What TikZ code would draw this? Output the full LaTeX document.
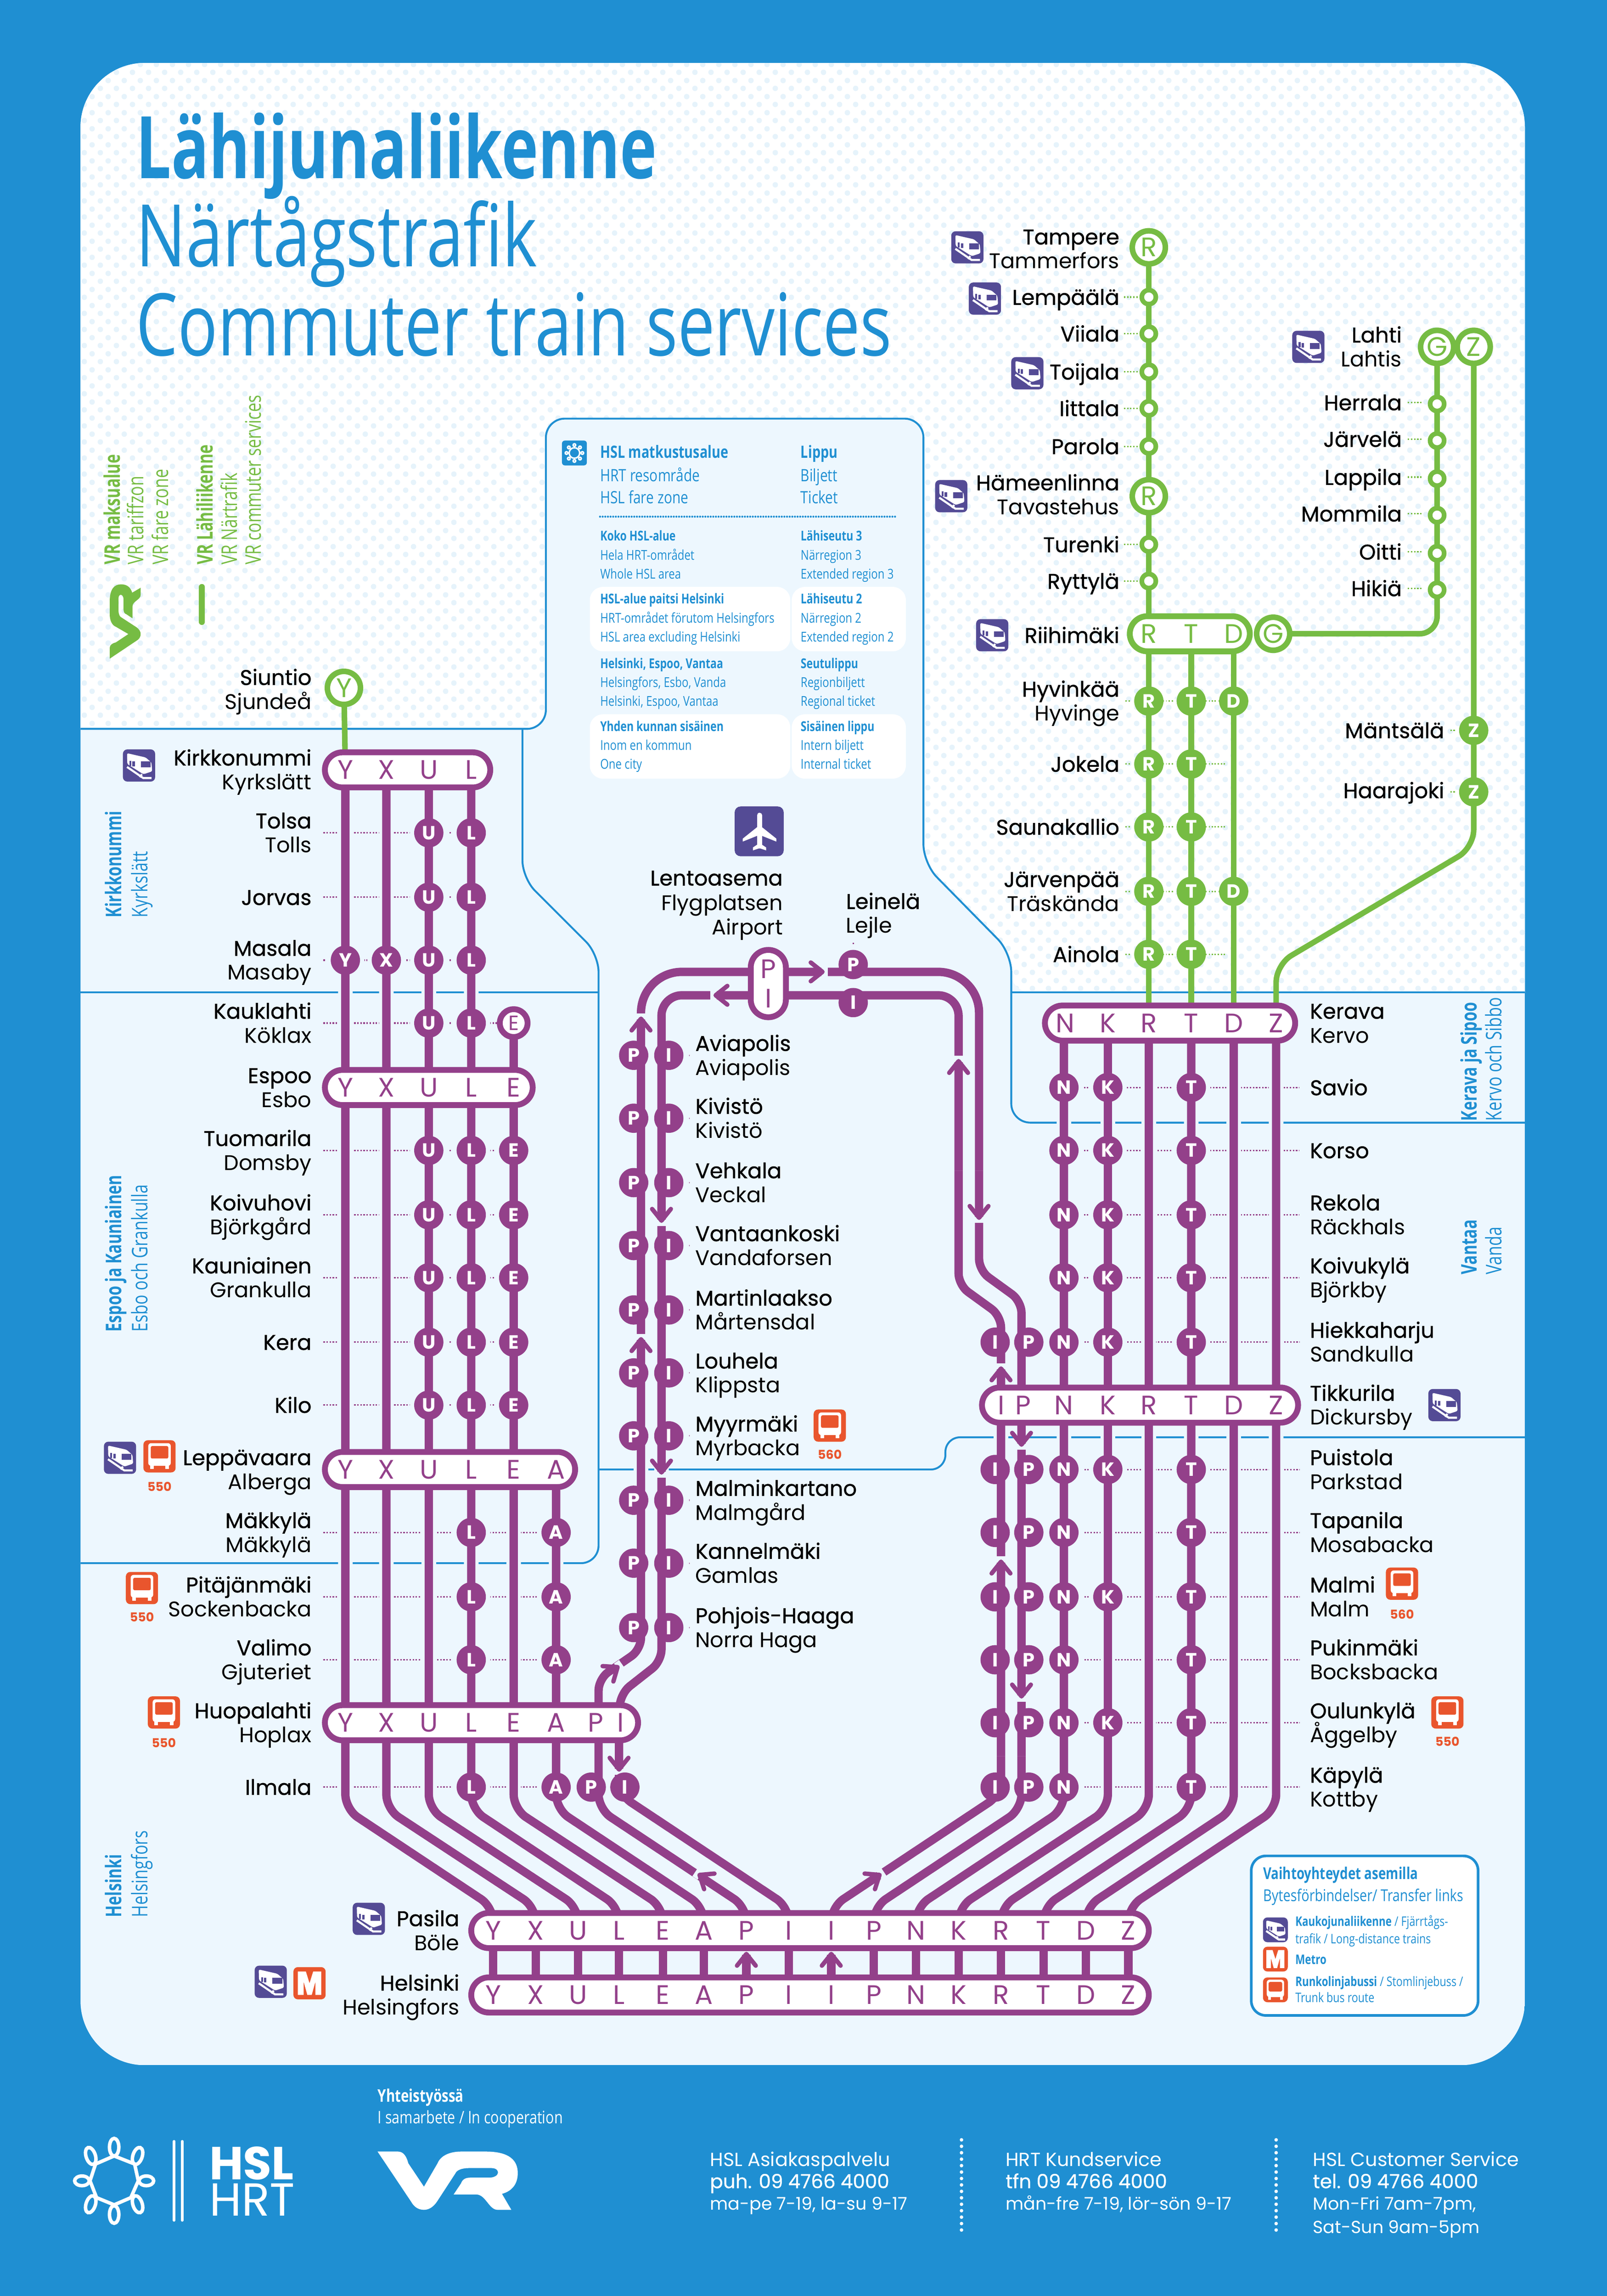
\documentclass[tikz,border=0pt]{standalone}
\usepackage{fontspec}
\usetikzlibrary{shapes.misc,patterns}
\setmainfont{Poppins}
\newfontfamily\stnb[FakeBold=.8]{Poppins}
\newfontfamily\cond[FakeStretch=.81,BoldFeatures={FakeStretch=.78}]{Open Sans}
\newfontfamily\sidef[FakeStretch=.76,BoldFeatures={FakeStretch=.72}]{Open Sans}
\newfontfamily\titlef[FakeStretch=.765,BoldFeatures={FakeStretch=.72}]{Open Sans}
\definecolor{hslblue}{HTML}{1F8FD2}
\definecolor{bgc}{HTML}{EDF7FE}
\definecolor{dotc}{HTML}{E6F3FB}
\definecolor{metro}{HTML}{93408A}
\definecolor{vrgreen}{HTML}{76BC43}
\definecolor{iconp}{HTML}{544B95}
\definecolor{iconr}{HTML}{E9552D}
\pgfdeclarepatternformonly{staggerdots}{\pgfpoint{0cm}{0cm}}{\pgfpoint{.55cm}{.55cm}}{\pgfpoint{.55cm}{.55cm}}{
	\pgfpathcircle{\pgfpoint{.1375cm}{.1375cm}}{.095cm}
	\pgfpathcircle{\pgfpoint{.4125cm}{.4125cm}}{.095cm}
	\pgfusepath{fill}}
\tikzset{
	zone/.style={draw=hslblue,line width=.065cm},
	trk/.style={draw=metro,line width=.285cm,preaction={draw=bgc,line width=.5cm}},
	grn/.style={draw=vrgreen,line width=.19cm},
	leader/.style={draw=metro,line width=.05cm,dash pattern=on .05cm off .055cm},
	gleader/.style={draw=vrgreen,line width=.05cm,dash pattern=on .05cm off .055cm},
	blob/.style={circle,fill=metro,text=white,inner sep=0pt,minimum size=1cm,font=\bfseries\fontsize{18.6}{19}\selectfont},
	gblob/.style={blob,fill=vrgreen},
	halo/.style={circle,fill=bgc,inner sep=0pt,minimum size=1.3cm},
	ring/.style={circle,draw=vrgreen,fill=white,line width=.19cm,inner sep=0pt,minimum size=1.13cm,text=vrgreen,font=\fontsize{26}{26}\selectfont},
	halt/.style={circle,draw=vrgreen,fill=white,line width=.16cm,inner sep=0pt,minimum size=.48cm},
	stbox/.style={rounded rectangle,draw=metro,fill=white,line width=.2cm,inner sep=0pt,minimum height=1.2cm},
	gbox/.style={stbox,draw=vrgreen},
	boxlet/.style={inner sep=0pt,text=metro,font=\fontsize{26}{26}\selectfont},
	nameA/.style={inner sep=0pt,font=\stnb\fontsize{20.7}{21}\selectfont},
	nameB/.style={inner sep=0pt,font=\fontsize{20.6}{21}\selectfont},
	busno/.style={inner sep=0pt,text=iconr,font=\bfseries\fontsize{12}{12}\selectfont},
	headA/.style={inner sep=0pt,anchor=base west,text=hslblue,font=\cond\bfseries\fontsize{16.5}{17}\selectfont},
	headB/.style={inner sep=0pt,anchor=base west,text=hslblue,font=\cond\fontsize{16.5}{17}\selectfont},
	rowA/.style={inner sep=0pt,anchor=base west,text=hslblue,font=\cond\bfseries\fontsize{13.2}{14}\selectfont},
	rowB/.style={inner sep=0pt,anchor=base west,text=hslblue,font=\cond\fontsize{13.2}{14}\selectfont},
	sideA/.style={inner sep=0pt,rotate=90,anchor=base west,font=\sidef\bfseries\fontsize{21}{21}\selectfont},
	sideB/.style={inner sep=0pt,rotate=90,anchor=base west,font=\sidef\fontsize{21}{21}\selectfont},
	foot/.style={inner sep=0pt,anchor=base west,text=white,font=\fontsize{17}{17}\selectfont},
	tipmark/.pic={
		\fill[bgc] (-.6,-3.4) rectangle (3.6,3.4);
		\draw[metro,line width=.15cm,line cap=round,line join=round] (-8,-6.4) -- (0,0) -- (-8,6.4);
	},
	trainicon/.pic={
		\fill[iconp,rounded corners=.15cm] (-11,-11) rectangle (11,11);
		\begin{scope}[shift={(-11,-11)}]
			\fill[white,rounded corners=.05cm] (2.8,2.6) -- (15.5,5.5) -- (19.5,9) -- (20,15) -- (14,17) -- (3,10) -- cycle;
			\fill[iconp] (12.2,8.3) rectangle (18.8,12.3);
			\fill[iconp] (4.4,7.8) rectangle (5.7,11.2);
			\fill[iconp] (6.5,8.3) rectangle (8.1,11.5);
			\draw[white,line width=.07cm] (2.8,12) -- (13.9,19.6) -- (19.6,19.6);
			\draw[white,line width=.07cm] (13,17) -- (11.5,19);
		\end{scope}
	},
	busicon/.pic={
		\fill[iconr,rounded corners=.15cm] (-11,-11) rectangle (11,11);
		\begin{scope}[shift={(-11,-11)}]
			\fill[white,rounded corners=.1cm] (3.3,2) rectangle (18.7,17.5);
			\fill[iconr,rounded corners=.05cm] (5,4) rectangle (17,12.5);
			\fill[white] (4.5,16) rectangle (7,19.7);
			\fill[white] (15,16) rectangle (17.5,19.7);
		\end{scope}
	},
	metroicon/.pic={
		\fill[iconr,rounded corners=.15cm] (-11,-11) rectangle (11,11);
		\begin{scope}[shift={(-11,-11)}]
			\fill[white] (3,3) -- (8.5,3) -- (11,11) -- (13.5,3) -- (19,3) -- (19,19) -- (15,19) -- (15,10) -- (12.5,19) -- (9.5,19) -- (7,10) -- (7,19) -- (3,19) -- cycle;
		\end{scope}
	},
	vrlogo/.pic={
		\fill (0,0) -- (14,0) .. controls (18,0) and (20,4) .. (21,8) -- (31.7,24) -- (41,8) .. controls (43,3) and (49,0) .. (57,0) -- (74,0)
			.. controls (90,0) and (95.8,6) .. (95.8,14.7) .. controls (95.8,22) and (92,27) .. (85,28.9) -- (91.4,39.8) -- (82,39.8)
			.. controls (76,39.8) and (74,29.3) .. (67.3,29.3) -- (52,29.3) -- (57,21.8) .. controls (58,19) and (60,17.8) .. (63.5,17.8) -- (76.2,17.8)
			.. controls (84,17.8) and (84,11.3) .. (78,11.3) -- (62.2,11.3) .. controls (57,11.3) and (54,13) .. (53.3,14.7) -- (40.6,34.2)
			.. controls (38,38) and (35,39.8) .. (31.7,39.8) .. controls (28,39.8) and (25,38) .. (22.9,34.2) -- cycle;
	}
}
\newcommand{\pill}[6]{\node[#1,minimum width={(#4-#3-4)*.05cm}] (#2) at ({(#3+#4)/2},#5) {};
	\foreach \c/\x in {#6} {\node[boxlet,#1let] (#2\c\x) at (\x,#5) {\c};}}
\tikzset{stboxlet/.style={},gboxlet/.style={text=vrgreen}}
% stops of the purple lines, column by column
\def\purplestops{U/293/{569,613,656,699,786,830,873,917,960},L/322/{569,613,656,699,786,830,873,917,960,1047,1091,1134,1221},Y/236/{656},X/264/{656},E/351/{786,830,873,917,960},A/380/{1047,1091,1134,1221},P/404/{1221},I/427/{1221},P/433/{721,764,808,851,895,938,981,1025,1068,1112},I/457/{721,764,808,851,895,938,981,1025,1068,1112},I/680/{917,1004,1047,1091,1134,1177,1221},P/703/{917,1004,1047,1091,1134,1177,1221},N/727/{743,786,830,873,917,1004,1047,1091,1134,1177,1221},K/757/{743,786,830,873,917,1004,1091,1177},T/814/{743,786,830,873,917,1004,1047,1091,1134,1177,1221},P/583/{659},I/583/{685}}
\def\greenstops{R/785/{479,522,565,609,652},T/814/{479,522,565,609,652},D/843/{479,609},Z/1007/{499,541}}
\begin{document}
\begin{tikzpicture}[x=.05cm,y=-.05cm]
	\fill[hslblue] (0,0) rectangle (1098,1568.7);
	\begin{scope}
		\clip[rounded corners=2.2cm] (55,43) rectangle (1042,1411);
		\fill[bgc] (55,43) rectangle (1042,1411);
		\fill[white,rounded corners=.65cm] (0,498) -- (373,498) -- (373,286) -- (631,286) -- (631,590) -- (691,651) -- (691,678) -- (1100,678) -- (1100,0) -- (0,0) -- cycle;
		\fill[pattern=staggerdots,pattern color=dotc,rounded corners=.65cm] (0,498) -- (373,498) -- (373,286) -- (631,286) -- (631,590) -- (691,651) -- (691,678) -- (1100,678) -- (1100,0) -- (0,0) -- cycle;
	\end{scope}
	% zones
	\draw[zone,rounded corners=.65cm] (55,498) -- (373,498) -- (373,286) -- (631,286) -- (631,590) -- (691,651) -- (691,767) -- (1042,767);
	\draw[zone] (691,678) -- (1042,678);
	\draw[zone,rounded corners=.6cm] (357,498) -- (357,600) -- (409,652) -- (409,1068) -- (55,1068);
	\draw[zone] (55,678) -- (409,678);
	\draw[zone,rounded corners=.5cm] (409,1004) -- (646,1004) -- (646,982) -- (1042,982);
	% title
	\node[inner sep=0pt,anchor=base west,text=hslblue,font=\titlef\bfseries\fontsize{84}{84}\selectfont] (title1) at (93,122) {Lähijunaliikenne};
	\node[inner sep=0pt,anchor=base west,text=hslblue,font=\titlef\fontsize{84}{84}\selectfont] (title2) at (93,182) {Närtågstrafik};
	\node[inner sep=0pt,anchor=base west,text=hslblue,font=\titlef\fontsize{84}{84}\selectfont] (title3) at (93,243) {Commuter train services};
	% VR legend
	\foreach \x/\t [count=\i] in {82/VR maksualue,145.5/VR Lähiliikenne} {\node[sideA,text=vrgreen] (vrA\i) at (\x,386) {\t};}
	\foreach \x/\t [count=\i] in {98/VR tariffzon,115/VR fare zone,162/VR Närtrafik,178.5/VR commuter services} {\node[sideB,text=vrgreen] (vrB\i) at (\x,386) {\t};}
	\pic[vrgreen,rotate=90,scale=.53] at (75,450) {vrlogo};
	\draw[vrgreen,line width=.2cm,line cap=round] (138,401) -- (138,425);
	% zone names
	\foreach \x/\y/\t [count=\i] in {83/627/Kirkkonummi,83/910/Espoo ja Kauniainen,83/1310/Helsinki,1009/766/Kerava ja Sipoo,1009/871/Vantaa} {\node[sideA,text=hslblue] (zoneA\i) at (\x,\y) {\t};}
	\foreach \x/\y/\t [count=\i] in {101/627/Kyrkslätt,101/910/Esbo och Grankulla,101/1310/Helsingfors,1026/766/Kervo och Sibbo,1026/871/Vanda} {\node[sideB,text=hslblue] (zoneB\i) at (\x,\y) {\t};}
	% HSL ticket legend
	\foreach \a/\b in {403/540,541/619} \foreach \y in {401,488} {
		\fill[white,rounded corners=.45cm] (\a,\y) rectangle (\b,\y+44);
	}
	\fill[hslblue,rounded corners=.1cm] (384,301) rectangle (401,318);
	\draw[white,line width=.05cm] (392.5,309.5) circle (3.6);
	\foreach \a in {0,45,...,315} {\draw[white,line width=.05cm] (392.5,309.5) ++(\a:5.4) circle (.9);}
	\node[headA] (ticketA) at (410,313) {HSL matkustusalue};
	\node[headB] (ticketB) at (410,329) {HRT resområde};
	\node[headB] (ticketC) at (410,344) {HSL fare zone};
	\node[headA] (ticketD) at (547,313) {Lippu};
	\node[headB] (ticketE) at (547,329) {Biljett};
	\node[headB] (ticketF) at (547,344) {Ticket};
	\draw[hslblue,line width=.07cm,line cap=round,dash pattern=on 0cm off .09cm] (410,353) -- (613,353);
	\foreach \y/\a/\b/\c/\d/\e/\f [count=\i] in {
		369.5/Koko HSL-alue/Hela HRT-området/Whole HSL area/Lähiseutu 3/Närregion 3/Extended region 3,
		412.5/HSL-alue paitsi Helsinki/HRT-området förutom Helsingfors/HSL area excluding Helsinki/Lähiseutu 2/Närregion 2/Extended region 2,
		456.5/{Helsinki, Espoo, Vantaa}/{Helsingfors, Esbo, Vanda}/{Helsinki, Espoo, Vantaa}/Seutulippu/Regionbiljett/Regional ticket,
		499.5/Yhden kunnan sisäinen/Inom en kommun/One city/Sisäinen lippu/Intern biljett/Internal ticket} {
		\node[rowA] (fareA\i) at (410,\y) {\a};
		\node[rowB] (fareB\i) at (410,\y+13) {\b};
		\node[rowB] (fareC\i) at (410,\y+26) {\c};
		\node[rowA] (fareD\i) at (547,\y) {\d};
		\node[rowB] (fareE\i) at (547,\y+13) {\e};
		\node[rowB] (fareF\i) at (547,\y+26) {\f};
	}
	% green lines
	\coordinate (cY) at (235,470);
	\coordinate (cR) at (785,169);
	\coordinate (cG) at (870,433);
	\coordinate (cGt) at (982,237);
	\coordinate (cZt) at (1007,237);
	\coordinate (kkY) at (236,526);
	\coordinate (kvR) at (785,699);
	\coordinate (kvT) at (814,699);
	\coordinate (kvD) at (843,699);
	\coordinate (kvZ) at (872,699);
	\coordinate (riT) at (814,433);
	\coordinate (riD) at (843,433);
	\draw[grn] (cY) -- (kkY);
	\draw[grn] (cR) -- (kvR);
	\draw[grn] (riT) -- (kvT);
	\draw[grn] (riD) -- (kvD);
	\draw[grn,rounded corners=.6cm] (cG) -- (982,433) -- (cGt);
	\draw[grn,rounded corners=.6cm] (cZt) -- (1007,579) -- (872,659) -- (kvZ);
	\foreach \y/\a/\b in {203/768/778,228/768/778,254/768/778,279/768/778,305/768/778,372/768/778,397/768/778,479/769/843,522/769/838,565/769/838,609/769/843,652/769/838,275/962/972,300/962/972,326/962/972,351/962/972,377/962/972,402/962/972,499/991/1000,541/991/1000} {
		\coordinate (gl\a\y) at (\a,\y);
		\coordinate (gr\a\y) at (\b,\y);
		\draw[gleader] (gl\a\y) -- (gr\a\y);
	}
	\foreach \c/\x/\ys in \greenstops {\foreach \y in \ys {\fill[white] (\x-12,\y-1.5) rectangle (\x-10.5,\y+1.5); \fill[white] (\x+10.5,\y-1.5) rectangle (\x+12,\y+1.5);}}
	\foreach \c/\x/\ys in \greenstops {\foreach \y in \ys {\node[gblob] (\c\x-\y) at (\x,\y) {\c};}}
	\foreach \y in {203,228,254,279,305,372,397} {\node[halt] (haltR\y) at (785,\y) {};}
	\foreach \y in {276,301,327,352,378,403} {\node[halt] (haltG\y) at (982,\y) {};}
	\node[ring] (ringY) at (cY) {Y};
	\node[ring] (ringR) at (cR) {R};
	\node[ring] (ringR2) at (785,339) {R};
	\node[ring] (ringG) at (cG) {G};
	\node[ring] (ringGt) at (cGt) {G};
	\node[ring] (ringZt) at (cZt) {Z};
	\pill{gbox}{Riihi}{770}{856}{433}{R/785,T/814,D/843}
	% leaders of the purple lines
	\foreach \y/\a/\b in {569/221/322,613/221/322,656/221/322,699/221/351,786/221/351,830/221/351,873/221/351,917/221/351,960/221/351,1047/221/380,1091/221/380,1134/221/380,1221/221/427,743/728/888,786/728/888,830/728/888,873/728/888,917/680/888,1004/680/888,1047/680/888,1091/680/888,1134/680/888,1177/680/888,1221/680/888,721/433/471,764/433/471,808/433/471,851/433/471,895/433/471,938/433/471,981/433/471,1025/433/471,1068/433/471,1112/433/471} {
		\coordinate (pl\a\y) at (\a,\y);
		\coordinate (pr\a\y) at (\b,\y);
		\draw[leader] (pl\a\y) -- (pr\a\y);
	}
	\coordinate (leiTop) at (583,644);
	\coordinate (leiBot) at (583,680);
	\draw[leader] (leiTop) -- (leiBot);
	\foreach \c/\x/\ys in \purplestops {\foreach \y in \ys {\node[halo] (h\c\x-\y) at (\x,\y) {};}}
	% trunk lines, left and right
	\foreach \n/\xt/\xb/\yt/\ya in {Y/236/337/526/1236,X/264/366/526/1236,U/293/395/526/1236,L/322/423/526/1236,E/351/453/699/1236,A/380/481/1004/1236,P/409/510/1177/1236,I/423/539/1177/1226,N/727/626/699/1236,K/757/655/699/1236,R/785/684/699/1236,T/814/713/699/1236,D/843/742/699/1236,Z/872/771/699/1236} {
		\coordinate (top\n) at (\xt,\yt);
		\coordinate (pas\n\xb) at (\xb,1319);
		\coordinate (hel\n\xb) at (\xb,1363);
		\draw[trk,rounded corners=.5cm] (top\n) -- (\xt,\ya) -- (\xb,1303) -- (pas\n\xb);
		\draw[trk] (pas\n\xb) -- (hel\n\xb);
	}
	\coordinate (pasIr) at (568,1319);
	\coordinate (pasPr) at (597,1319);
	\coordinate (helIr) at (568,1363);
	\coordinate (helPr) at (597,1363);
	\draw[trk] (pasIr) -- (helIr);
	\draw[trk] (pasPr) -- (helPr);
	% airport loop
	\coordinate (huoP) at (409,1177);
	\coordinate (huoI) at (423,1177);
	\draw[trk,rounded corners=.4cm] (huoP) -- (409,1147) -- (438,1127) -- (438,800);
	\draw[trk,rounded corners=1.4cm] (438,800) -- (438,664) -- (669,664) -- (669,800);
	\draw[trk,rounded corners=.4cm] (669,800) -- (669,868) -- (698,889) -- (698,1200);
	\draw[trk,rounded corners=.5cm] (698,1200) -- (698,1236) -- (597,1303) -- (pasPr);
	\draw[trk,rounded corners=.4cm] (huoI) -- (424,1157) -- (452,1135) -- (452,800);
	\draw[trk,rounded corners=.7cm] (452,800) -- (452,680) -- (655,680) -- (655,800);
	\draw[trk,rounded corners=.4cm] (655,800) -- (655,878) -- (684,899) -- (684,1200);
	\draw[trk,rounded corners=.5cm] (684,1200) -- (684,1226) -- (568,1303) -- (pasIr);
	% direction marks
	\foreach \x/\y/\a in {562/664/0,489/680/180,438/696/-90,452/834/90,438/915/-90,452/1006/90,655/725/-90,669/832/90,684/935/-90,698/987/90,684/1067/-90,698/1159/90,423/1209/90,422/1139/-35,478/1281/-146.5,601/1281/-33.5,510/1335/-90,568/1335/-90} {
		\pic[rotate=-\a] at (\x,\y) {tipmark};
	}
	% stops and station boxes
	\foreach \c/\x/\ys in \purplestops {\foreach \y in \ys {\node[blob] (\c\x-\y) at (\x,\y) {\c};}}
	\node[stbox,minimum width=.95cm,circle,minimum size=.95cm] (ringE) at (351,699) {};
	\node[boxlet,font=\fontsize{20}{20}\selectfont] (ringEl) at (351,699) {E};
	\pill{stbox}{Kirk}{220}{337}{526}{Y/236,X/264,U/293,L/322}
	\pill{stbox}{Espoo}{220}{366}{743}{Y/236,X/264,U/293,L/322,E/351}
	\pill{stbox}{Lepp}{220}{395}{1004}{Y/236,X/264,U/293,L/322,E/351,A/380}
	\pill{stbox}{Huop}{220}{438}{1177}{Y/236,X/264,U/293,L/322,E/351,A/380,P/407,I/424}
	\pill{stbox}{Kerv}{712}{887}{699}{N/728,K/757,R/785,T/814,D/843,Z/872}
	\pill{stbox}{Tikk}{669}{889}{960}{I/684,P/699,N/727,K/757,R/785,T/814,D/843,Z/872}
	\pill{stbox}{Pasi}{320}{787}{1319}{Y/337,X/366,U/395,L/423,E/453,A/481,P/510,I/539,I/568,P/597,N/626,K/655,R/684,T/713,D/742,Z/771}
	\pill{stbox}{Hels}{320}{787}{1363}{Y/337,X/366,U/395,L/423,E/453,A/481,P/510,I/539,I/568,P/597,N/626,K/655,R/684,T/713,D/742,Z/771}
	\node[stbox,rotate=90,minimum width=2.3cm] (airport) at (525,672) {};
	\node[boxlet] (airportP) at (525,662) {P};
	\node[boxlet] (airportI) at (525,682) {I};
	% station names
	\foreach \x/\y/\a/\b in {213/471/Siuntio/Sjundeå,213/526/Kirkkonummi/Kyrkslätt,213/569/Tolsa/Tolls,213/656/Masala/Masaby,213/699/Kauklahti/Köklax,213/743/Espoo/Esbo,213/786/Tuomarila/Domsby,213/830/Koivuhovi/Björkgård,213/873/Kauniainen/Grankulla,213/1004/Leppävaara/Alberga,213/1047/Mäkkylä/Mäkkylä,213/1091/Pitäjänmäki/Sockenbacka,213/1134/Valimo/Gjuteriet,213/1177/Huopalahti/Hoplax,314/1319/Pasila/Böle,314/1363/Helsinki/Helsingfors,765/170/Tampere/Tammerfors,765/338/Hämeenlinna/Tavastehus,765/479/Hyvinkää/Hyvinge,765/609/Järvenpää/Träskända,958/237/Lahti/Lahtis} {
		\node[nameA,anchor=base east] (\a) at (\x,\y-3) {\a};
		\node[nameB,anchor=base east] (\a2) at (\x,\y+13.5) {\b};
	}
	\foreach \x/\y/\a in {213/613/Jorvas,213/917/Kera,213/960/Kilo,213/1221/Ilmala,765/203/Lempäälä,765/228/Viiala,765/254/Toijala,765/279/Iittala,765/305/Parola,765/372/Turenki,765/397/Ryttylä,765/434/Riihimäki,765/522/Jokela,765/565/Saunakallio,765/652/Ainola,958/275/Herrala,958/300/Järvelä,958/326/Lappila,958/351/Mommila,958/377/Oitti,958/402/Hikiä,987/499/Mäntsälä,987/540/Haarajoki} {
		\node[nameA,anchor=base east] (\a) at (\x,\y+5.3) {\a};
	}
	\foreach \x/\y/\a/\b in {895/699/Kerava/Kervo,895/830/Rekola/Räckhals,895/873/Koivukylä/Björkby,895/917/Hiekkaharju/Sandkulla,895/960/Tikkurila/Dickursby,895/1004/Puistola/Parkstad,895/1047/Tapanila/Mosabacka,895/1091/Malmi/Malm,895/1134/Pukinmäki/Bocksbacka,895/1177/Oulunkylä/Åggelby,895/1221/Käpylä/Kottby,475/721/Aviapolis/Aviapolis,475/764/Kivistö/Kivistö,475/808/Vehkala/Veckal,475/851/Vantaankoski/Vandaforsen,475/895/Martinlaakso/Mårtensdal,475/938/Louhela/Klippsta,475/981/Myyrmäki/Myrbacka,475/1025/Malminkartano/Malmgård,475/1068/Kannelmäki/Gamlas,475/1112/Pohjois-Haaga/Norra Haga,578/624/Leinelä/Lejle} {
		\node[nameA,anchor=base west] (\a) at (\x,\y-3) {\a};
		\node[nameB,anchor=base west] (\a2) at (\x,\y+13.5) {\b};
	}
	\foreach \x/\y/\a in {895/743/Savio,895/786/Korso} {\node[nameA,anchor=base west] (\a) at (\x,\y+5.3) {\a};}
	\node[nameA,anchor=base east] (Lentoasema) at (535,605) {Lentoasema};
	\node[nameB,anchor=base east] (Flygplatsen) at (535,622) {Flygplatsen};
	\node[nameB,anchor=base east] (Airport) at (535,638.5) {Airport};
	% icons
	\foreach \n/\x/\y in {a/661/169,b/673/204,c/702/255,d/650/339,e/678/434,f/894/237,g/95/523,h/82/996,i/252/1311,j/185/1354,k/987/960} {\pic (train\n) at (\x,\y) {trainicon};}
	\foreach \n/\x/\y/\t/\v in {a/109/995/550/1019,b/97/1085/550/1108,c/112/1170/550/1194,d/567/974/560/997,e/958/1082/560/1106,f/989/1170/550/1193} {
		\pic (bus\n) at (\x,\y) {busicon};
		\node[busno,anchor=base] (busno\n) at (\x,\v) {\t};
	}
	\pic (metroM) at (211.5,1355) {metroicon};
	% airport sign
	\fill[iconp,rounded corners=.2cm] (502,551) rectangle (535.5,585);
	\begin{scope}[shift={(519,568)}]
		\draw[white,line width=.17cm,line cap=round] (0,-11) -- (0,10);
		\fill[white] (-1.5,-3) -- (-11.5,5) -- (-11.5,7) -- (-1.5,3) -- (1.5,3) -- (11.5,7) -- (11.5,5) -- (1.5,-3) -- cycle;
		\fill[white] (-4.5,11) -- (0,8) -- (4.5,11) -- (4.5,13) -- (0,11.5) -- (-4.5,13) -- cycle;
	\end{scope}
	% transfer legend
	\node[draw=hslblue,fill=white,line width=.09cm,rounded corners=.5cm,minimum width=7.75cm,minimum height=5.45cm,inner sep=0pt] (xferbox) at (932.5,1322.5) {};
	\node[inner sep=0pt,anchor=base west,text=hslblue,font=\cond\bfseries\fontsize{15.9}{16}\selectfont] (xferA) at (863,1284) {Vaihtoyhteydet asemilla};
	\node[inner sep=0pt,anchor=base west,text=hslblue,font=\cond\fontsize{15.9}{16}\selectfont] (xferB) at (863,1299) {Bytesförbindelser/ Transfer links};
	\pic[scale=.77] (xferT) at (871.5,1318.5) {trainicon};
	\pic[scale=.77] (xferM) at (871.5,1338.5) {metroicon};
	\pic[scale=.77] (xferR) at (871.5,1359.5) {busicon};
	\node[inner sep=0pt,anchor=base west,text=hslblue,font=\cond\fontsize{12.8}{13}\selectfont] (xferC) at (885,1316) {{\bfseries Kaukojunaliikenne} / Fjärrtågs-};
	\node[inner sep=0pt,anchor=base west,text=hslblue,font=\cond\fontsize{12.8}{13}\selectfont] (xferD) at (885,1328) {trafik / Long-distance trains};
	\node[inner sep=0pt,anchor=base west,text=hslblue,font=\cond\bfseries\fontsize{12.8}{13}\selectfont] (xferE) at (885,1342) {Metro};
	\node[inner sep=0pt,anchor=base west,text=hslblue,font=\cond\fontsize{12.8}{13}\selectfont] (xferF) at (885,1357) {{\bfseries Runkolinjabussi} / Stomlinjebuss /};
	\node[inner sep=0pt,anchor=base west,text=hslblue,font=\cond\fontsize{12.8}{13}\selectfont] (xferG) at (885,1368) {Trunk bus route};
	% footer
	\begin{scope}[shift={(78,1490)}]
		\draw[white,line width=.12cm] (0,-17) -- (14,-11.5) -- (16.5,0) -- (11.4,11.5) -- (0,16.4) -- (-12,11.5) -- (-16.5,0) -- (-12.7,-11.5) -- cycle;
		\foreach \x/\y/\r in {0/-23/0,0/23/0,16/-17/-18,-16/-17/18,16/16/18,-16/16/-18} {
			\draw[white,line width=.12cm,rotate around={\r:(\x,\y)}] (\x,\y) ellipse (3.2 and 6);
		}
		\foreach \x in {-22,22} {\draw[white,line width=.12cm] (\x,0) ellipse (5 and 3.3);}
	\end{scope}
	\draw[white,line width=.09cm,line cap=round] (119,1463) -- (119,1517);
	\draw[white,line width=.09cm,line cap=round] (124.5,1463) -- (124.5,1517);
	\node[inner sep=0pt,anchor=base west,text=white,font=\bfseries\fontsize{45}{45}\selectfont] (logoHSL) at (143,1489) {HSL};
	\node[inner sep=0pt,anchor=base west,text=white,font=\fontsize{45}{45}\selectfont] (logoHRT) at (143,1514) {HRT};
	\node[inner sep=0pt,anchor=base west,text=white,font=\cond\bfseries\fontsize{16.9}{17}\selectfont] (coopA) at (258,1436) {Yhteistyössä};
	\node[inner sep=0pt,anchor=base west,text=white,font=\cond\fontsize{16.8}{17}\selectfont] (coopB) at (258,1451) {I samarbete / In cooperation};
	\pic[white] at (258,1470) {vrlogo};
	\foreach \x in {657,872} {
		\draw[white,line width=.12cm,line cap=round,dash pattern=on 0cm off .22cm] (\x,1462) -- (\x,1526);
	}
	\foreach \x/\y/\t [count=\i] in {485/1480/HSL Asiakaspalvelu,687/1480/HRT Kundservice,897/1480/HSL Customer Service} {
		\node[foot,font=\fontsize{18.5}{18}\selectfont] (footA\i) at (\x,\y) {\t};
	}
	\foreach \x/\t [count=\i] in {485/puh. 09 4766 4000,687/tfn 09 4766 4000,897/tel. 09 4766 4000} {
		\node[foot,font=\stnb\fontsize{18.8}{18}\selectfont] (footB\i) at (\x,1495) {\t};
	}
	\foreach \x/\y/\t [count=\i] in {485/1510/ma-pe 7-19{,} la-su 9-17,687/1510/mån-fre 7-19{,} lör-sön 9-17,897/1510/Mon-Fri 7am-7pm{,},897/1526/Sat-Sun 9am-5pm} {
		\node[foot] (footC\i) at (\x,\y) {\t};
	}
\end{tikzpicture}
\end{document}
